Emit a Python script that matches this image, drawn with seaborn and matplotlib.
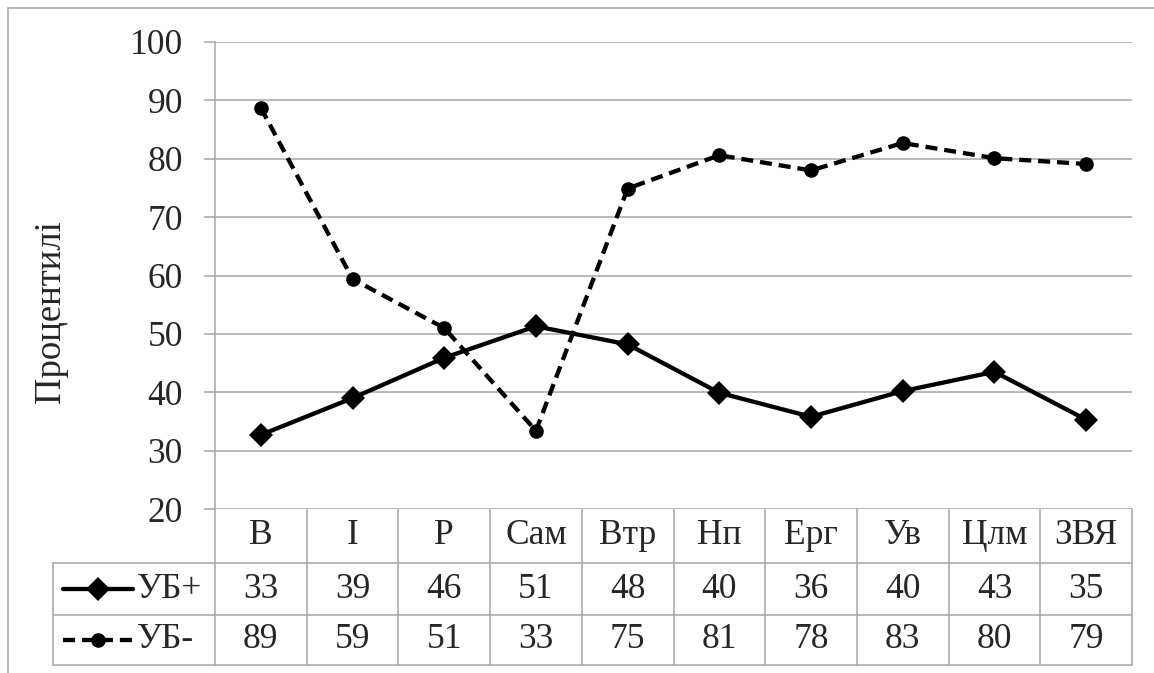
import matplotlib
matplotlib.use("Agg")
import matplotlib.pyplot as plt
import matplotlib.transforms as mtransforms
from matplotlib.lines import Line2D
import seaborn as sns
import pandas as pd

categories = ["В", "І", "Р", "Сам", "Втр", "Нп", "Ерг", "Ув", "Цлм", "ЗВЯ"]
ub_plus = [32.7, 39.0, 45.9, 51.3, 48.2, 39.9, 35.8, 40.2, 43.5, 35.3]
ub_minus = [88.7, 59.4, 51.0, 33.4, 74.9, 80.6, 78.0, 82.7, 80.1, 79.1]
ub_plus_table = [33, 39, 46, 51, 48, 40, 36, 40, 43, 35]
ub_minus_table = [89, 59, 51, 33, 75, 81, 78, 83, 80, 79]
series_names = ["УБ+", "УБ-"]
y_ticks = [20, 30, 40, 50, 60, 70, 80, 90, 100]
y_label = "Процентилі"

sns.set_style("white")
plt.rcParams["font.family"] = ["Liberation Serif", "DejaVu Serif"]

W, H = 1154, 673
fig = plt.figure(figsize=(W / 100, H / 100), dpi=100)
def fx(px):
    return px / W
def fy(py):
    return 1 - py / H

GRID = "#a6a6a6"
FS = 25.5
LW = 3.1
DASH = (0, (2.8, 1.6))

ax = fig.add_axes([fx(215), fy(509), fx(1132) - fx(215), fy(42) - fy(509)])

df = pd.DataFrame({"cat": categories, "plus": ub_plus, "minus": ub_minus})
sns.lineplot(data=df, x="cat", y="plus", ax=ax, color="black", lw=LW,
             marker="D", markersize=12.5, markeredgewidth=0, sort=False)
sns.lineplot(data=df, x="cat", y="minus", ax=ax, color="black", lw=LW,
             linestyle=DASH, marker="o", markersize=10.5,
             markeredgewidth=0, sort=False)

ax.set_xlim(-0.5, len(categories) - 0.5)
ax.set_ylim(20, 100)
ax.set_yticks(y_ticks)
ax.set_yticklabels([str(t) for t in y_ticks], fontsize=FS)
ax.set_xticks([])
ax.set_xlabel("")
ax.set_ylabel("")
ax.yaxis.grid(True, color=GRID, lw=1.1)
ax.xaxis.grid(False)
ax.tick_params(axis="y", length=8, width=1.1, color=GRID, pad=15, left=True)
for s in ["top", "right", "bottom"]:
    ax.spines[s].set_visible(False)
ax.spines["left"].set_color(GRID)
ax.spines["left"].set_linewidth(1.1)

fig.text(fx(51), fy(312), y_label, rotation=90, ha="center", va="center", fontsize=26.5)

# data table below the axis
bt = mtransforms.blended_transform_factory(ax.transData, fig.transFigure)
row_y = [509, 563, 615, 665]
for py in row_y[1:]:
    fig.add_artist(Line2D([fx(53), fx(1132)], [fy(py), fy(py)], color=GRID, lw=1.1))
fig.add_artist(Line2D([fx(53), fx(53)], [fy(563), fy(665)], color=GRID, lw=1.1))
n = len(categories)
for i in range(n + 1):
    fig.add_artist(Line2D([i - 0.5, i - 0.5], [fy(509), fy(665)], color=GRID, lw=1.1, transform=bt))

yc = [(row_y[k] + row_y[k + 1]) / 2 for k in range(3)]
for i, c in enumerate(categories):
    fig.text(i, fy(yc[0]), c, transform=bt, ha="center", va="center", fontsize=FS)
    fig.text(i, fy(yc[1]), str(ub_plus_table[i]), transform=bt, ha="center", va="center", fontsize=FS)
    fig.text(i, fy(yc[2]), str(ub_minus_table[i]), transform=bt, ha="center", va="center", fontsize=FS)

# legend keys
fig.add_artist(Line2D([fx(63), fx(133)], [fy(yc[1])] * 2, color="black", lw=LW))
fig.add_artist(Line2D([fx(98)], [fy(yc[1])], color="black", marker="D", markersize=12.5, markeredgewidth=0))
fig.add_artist(Line2D([fx(63), fx(133)], [fy(yc[2])] * 2, color="black", lw=LW, linestyle=DASH))
fig.add_artist(Line2D([fx(98)], [fy(yc[2])], color="black", marker="o", markersize=10.5, markeredgewidth=0))
fig.text(fx(137), fy(yc[1]), series_names[0], ha="left", va="center", fontsize=FS)
fig.text(fx(137), fy(yc[2]), series_names[1], ha="left", va="center", fontsize=FS)

# outer chart border (top and left visible)
fig.add_artist(Line2D([fx(8), fx(1154)], [fy(8), fy(8)], color=GRID, lw=1.1))
fig.add_artist(Line2D([fx(8), fx(8)], [fy(8), fy(673)], color=GRID, lw=1.1))

fig.savefig("out.png", dpi=100)
